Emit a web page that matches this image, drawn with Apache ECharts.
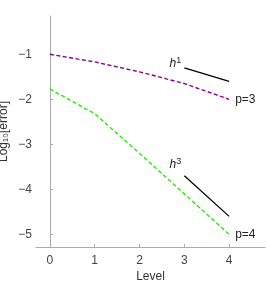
<!DOCTYPE html>
<html><head><meta charset="utf-8">
<script src="https://cdn.jsdelivr.net/npm/echarts@6/dist/echarts.min.js"></script>
<style>html,body{margin:0;padding:0;background:#fff}#c{width:267px;height:283px}</style>
</head><body><div id="c"></div>
<script>
const levels = [0, 1, 2, 3, 4];
const p3 = [-1.0, -1.17, -1.39, -1.65, -2.0];
const p4 = [-1.77, -2.32, -3.2, -4.1, -5.0];
const h1Ref = [[3, -1.3], [4, -1.6]];
const h3Ref = [[3, -3.7], [4, -4.6]];
const xTicks = [0, 1, 2, 3, 4];
const yTicks = [-5, -4, -3, -2, -1];

const minus = v => String(v).replace('-', '\u2212');
const chart = echarts.init(document.getElementById('c'), null, {renderer: 'canvas'});
const font = 'Liberation Sans';
const supRich = {i: {fontStyle: 'italic', fontFamily: font, fontSize: 12, color: '#222'}, s: {fontFamily: font, fontSize: 9, color: '#222', verticalAlign: 'top', padding: [0,0,6,0]}};
chart.setOption({
  animation: false,
  grid: {left: 36, right: 2, top: 16, bottom: 36, outerBoundsMode: 'none', containLabel: false},
  xAxis: {
    type: 'value', min: -0.31, max: 4.8,
    name: 'Level', nameLocation: 'middle', nameGap: 24, nameMoveOverlap: false,
    nameTextStyle: {fontFamily: font, fontSize: 12, color: '#333'},
    axisLine: {lineStyle: {color: '#aaa', width: 1}},
    axisTick: {inside: true, length: 3, lineStyle: {color: '#aaa'}, customValues: xTicks},
    axisLabel: {fontFamily: font, fontSize: 12, color: '#444', margin: 8, customValues: xTicks},
    splitLine: {show: false}
  },
  yAxis: {
    type: 'value', min: -5.28, max: -0.15,
    name: 'Log\u2081\u2080[error]', nameLocation: 'middle', nameGap: 26, nameRotate: 90, nameMoveOverlap: false,
    nameTextStyle: {fontFamily: font, fontSize: 12, color: '#333'},
    axisLine: {show: true, lineStyle: {color: '#aaa', width: 1}},
    axisTick: {show: true, inside: true, length: 3, lineStyle: {color: '#aaa'}, customValues: yTicks},
    axisLabel: {fontFamily: font, fontSize: 12, color: '#444', margin: 4, formatter: minus, customValues: yTicks},
    splitLine: {show: false}
  },
  series: [
    {type: 'line', data: levels.map((l, i) => [l, p3[i]]), symbol: 'none',
     lineStyle: {color: '#8b008b', width: 1.4, type: [4, 2.5]},
     endLabel: {show: true, formatter: 'p=3', fontFamily: font, fontSize: 12, color: '#222', distance: 6}},
    {type: 'line', data: levels.map((l, i) => [l, p4[i]]), symbol: 'none',
     lineStyle: {color: '#22ee00', width: 1.4, type: [4, 2.5]},
     endLabel: {show: true, formatter: 'p=4', fontFamily: font, fontSize: 12, color: '#222', distance: 6}},
    {type: 'line', data: h1Ref, symbol: 'none', lineStyle: {color: '#000', width: 1.3},
     markPoint: {symbol: 'circle', symbolSize: 0, data: [{coord: [2.8, -1.2]}],
       label: {show: true, formatter: '{i|h}{s|1}', rich: supRich}}},
    {type: 'line', data: h3Ref, symbol: 'none', lineStyle: {color: '#000', width: 1.3},
     markPoint: {symbol: 'circle', symbolSize: 0, data: [{coord: [2.8, -3.45]}],
       label: {show: true, formatter: '{i|h}{s|3}', rich: supRich}}}
  ]
});
</script></body></html>
